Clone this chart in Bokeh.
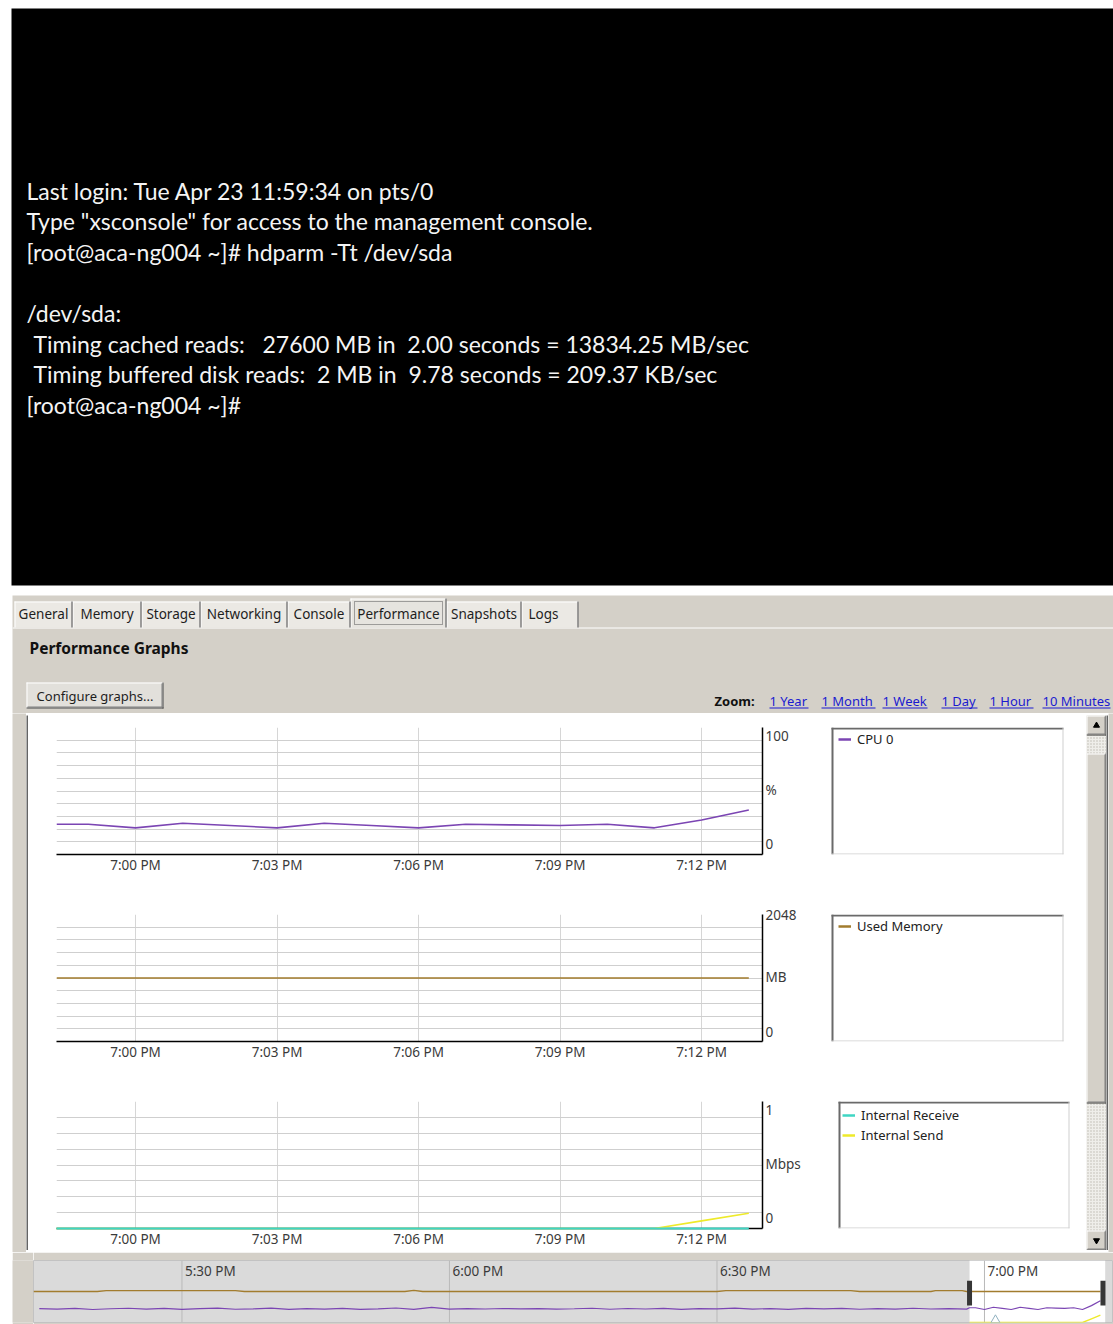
import re
from bokeh.plotting import figure
from bokeh.layouts import column, row
from bokeh.models import Range1d, FixedTicker, Legend, LegendItem
from bokeh.core.properties import value
from bokeh.embed import file_html
from bokeh.resources import INLINE

# ---------------------------------------------------------------- data
terminal_lines = [
    "Last login: Tue Apr 23 11:59:34 on pts/0",
    'Type "xsconsole" for access to the management console.',
    "[root@aca-ng004 ~]# hdparm -Tt /dev/sda",
    "",
    "/dev/sda:",
    " Timing cached reads:   27600 MB in  2.00 seconds = 13834.25 MB/sec",
    " Timing buffered disk reads:  2 MB in  9.78 seconds = 209.37 KB/sec",
    "[root@aca-ng004 ~]#",
]
tab_labels = ["General", "Memory", "Storage", "Networking", "Console",
              "Performance", "Snapshots", "Logs"]
selected_tab = "Performance"
panel_title = "Performance Graphs"
button_label = "Configure graphs..."
zoom_label = "Zoom:"
zoom_links = ["1 Year", "1 Month", "1 Week", "1 Day", "1 Hour", "10 Minutes"]

# main graphs: time in minutes relative to 7:00 PM
window_start = -1.675
window_end = 13.29
tick_minutes = [0, 3, 6, 9, 12]
tick_labels = ["7:00 PM", "7:03 PM", "7:06 PM", "7:09 PM", "7:12 PM"]

sample_minutes = [-1.675, -1, 0, 1, 2, 3, 4, 5, 6, 7, 8, 9, 10, 11, 12, 13]
cpu0_pct = [23.8, 23.8, 21.0, 24.6, 22.8, 21.0, 24.6, 22.8, 21.0, 23.8,
            23.3, 22.8, 23.8, 21.0, 27.2, 35.0]
used_memory_mb = [1024, 1024, 1024, 1024, 1024, 1024, 1024, 1024, 1024, 1024,
                  1024, 1024, 1024, 1024, 1024, 1024]
internal_receive_mbps = [0, 0, 0, 0, 0, 0, 0, 0, 0, 0, 0, 0, 0, 0, 0, 0]
internal_send_mbps = [0, 0, 0, 0, 0, 0, 0, 0, 0, 0, 0, 0, 0, 0, 0.06, 0.12]

memory_total_mb = 2048
cpu_axis_labels = ["0", "%", "100"]
mem_axis_labels = ["0", "MB", "2048"]
net_axis_labels = ["0", "Mbps", "1"]

# overview strip (minutes relative to 7:00 PM)
overview_start = -106.65
overview_end = 14.47
overview_ticks = [-90, -60, -30, 0]
overview_tick_labels = ["5:30 PM", "6:00 PM", "6:30 PM", "7:00 PM"]
overview_cpu_minutes = [-106, -104, -102, -100, -98, -96, -94, -92, -90, -88,
                        -86, -84, -82, -80, -78, -76, -74, -72, -70, -68,
                        -66, -64, -62, -60, -58, -56, -54, -52, -50, -48,
                        -46, -44, -42, -40, -38, -36, -34, -32, -30, -28,
                        -26, -24, -22, -20, -18, -16, -14, -12, -10, -8,
                        -6, -4, -2]
overview_cpu_pct = [22.5, 21.5, 22.8, 21.0, 22.2, 23.0, 21.5, 22.7, 21.2, 22.5,
                    23.2, 21.4, 22.0, 23.1, 21.3, 22.4, 21.6, 22.9, 21.1, 22.0,
                    23.4, 21.2, 24.5, 21.5, 22.3, 21.8, 22.6, 21.9, 22.4, 21.7,
                    22.2, 23.0, 21.4, 22.6, 21.8, 22.9, 21.3, 22.4, 22.0, 23.1,
                    21.6, 22.5, 21.2, 22.7, 21.9, 22.8, 21.4, 22.3, 21.7, 23.0,
                    21.8, 22.5, 21.6]
overview_mem_minutes = [-106.65, -99.5, -98.5, -84.0, -83.0, -65.0, -64.0, -63.0,
                        -30.0, -29.0, -15.0, -14.0, -6.0, -5.5, -2.5, -2.0]
overview_mem_mb = [1024, 1024, 1052, 1052, 1024, 1024, 1060, 1024,
                   1024, 1052, 1052, 1024, 1024, 1052, 1052, 1024]

# ---------------------------------------------------------------- style
PANEL = "#d4d0c8"
TAB_BG = "#ebe9e4"
BOX_BORDER = "#646464"
UI_FONT = "Noto Sans"
TERM_FONT = "Lato"
CPU_COLOR = "#7b45b3"
MEM_COLOR = "#a27c2e"
RX_COLOR = "#3fd6c3"
TX_COLOR = "#eeea2a"
LABEL_COLOR = "#3a3a3a"


def canvas(w, h, bg):
    p = figure(width=w, height=h, x_range=Range1d(0, w), y_range=Range1d(h, 0),
               x_axis_location=None, y_axis_location=None,
               output_backend="svg", toolbar_location=None,
               background_fill_color=bg, border_fill_color=bg,
               outline_line_color=None, min_border=0)
    p.xgrid.visible = False
    p.ygrid.visible = False
    return p


def block(w, h, color):
    return canvas(w, h, color)


def bevel(p, l, t, r, b, light="#ffffff", shadow="#808080", dark="#404040"):
    p.segment(x0=[l, l + 0.5], y0=[t + 0.5, t], x1=[r, l + 0.5], y1=[t + 0.5, b],
              line_color=light, line_width=1)
    p.segment(x0=[l, r - 0.5], y0=[b - 0.5, t], x1=[r, r - 0.5], y1=[b - 0.5, b],
              line_color=dark, line_width=1)
    p.segment(x0=[l + 1, r - 1.5], y0=[b - 1.5, t + 1], x1=[r - 1, r - 1.5], y1=[b - 1.5, b - 1],
              line_color=shadow, line_width=1)


# ---------------------------------------------------------------- terminal
term = figure(width=1113, height=595, x_range=Range1d(0, 1102), y_range=Range1d(577, 0),
              x_axis_location=None, y_axis_location=None,
              output_backend="svg", toolbar_location=None,
              min_border_left=11, min_border_right=0, min_border_top=8, min_border_bottom=10,
              background_fill_color="black", border_fill_color="white", outline_line_color=None)
term.xgrid.visible = False
term.ygrid.visible = False
tx, ty, tt = [], [], []
for i, line in enumerate(terminal_lines):
    if not line:
        continue
    tx.append(15 + (7 if line.startswith(" ") else 0))
    ty.append(182 + i * 30.6)
    tt.append(re.sub(r" {2,}", lambda m: " " + "\u00a0" * (len(m.group()) - 1), line.strip()))
term.text(x=tx, y=ty, text=tt, text_font=value(TERM_FONT), text_font_size="23px",
          text_color="#f4f4f4", text_baseline="middle", text_align="left")

# ---------------------------------------------------------------- header (tabs, title, zoom)
hdr = canvas(1101, 118, PANEL)
tab_edges = [2, 60, 129, 188, 275, 338, 434, 509, 566]
lefts, rights = tab_edges[:-1], tab_edges[1:]
tops = [3 if lab == selected_tab else 6 for lab in tab_labels]
hdr.segment(x0=[0], y0=[32.5], x1=[1101], y1=[32.5], line_color="white", line_width=1)
hdr.quad(left=lefts, right=rights, top=tops, bottom=[32] * len(lefts),
         fill_color=[("#e6e4df" if lab == selected_tab else TAB_BG) for lab in tab_labels],
         line_color=None)
hdr.segment(x0=[l + 0.5 for l in lefts], y0=tops, x1=[l + 0.5 for l in lefts], y1=[32] * len(lefts),
            line_color="white")
hdr.segment(x0=lefts, y0=[t + 0.5 for t in tops], x1=rights, y1=[t + 0.5 for t in tops],
            line_color="white")
hdr.segment(x0=[r - 0.5 for r in rights], y0=tops, x1=[r - 0.5 for r in rights], y1=[32] * len(rights),
            line_color="#6f6f6f", line_width=1.3)
tab_cx = [(l + r) / 2 for l, r in zip(lefts, rights)]
tab_cx[-1] = lefts[-1] + 22
hdr.text(x=tab_cx, y=[18] * len(tab_cx), text=tab_labels, text_font=value(UI_FONT),
         text_font_size="13.5px", text_color="#1e1e1e", text_align="center", text_baseline="middle")
si = tab_labels.index(selected_tab)
hdr.quad(left=[lefts[si] + 4], right=[rights[si] - 4], top=[6], bottom=[29], fill_color=None,
         line_color="#555555", line_dash="1 1", line_width=1)
hdr.text(x=[17], y=[52], text=[panel_title], text_font=value(UI_FONT), text_font_size="15.5px",
         text_font_style="bold", text_color="#111111", text_baseline="middle")
hdr.quad(left=[14], right=[151], top=[87], bottom=[113], fill_color="#e2e0db", line_color=None)
bevel(hdr, 14, 87, 151, 113)
hdr.text(x=[82.5], y=[100], text=[button_label], text_font=value(UI_FONT), text_font_size="13px",
         text_color="#1e1e1e", text_align="center", text_baseline="middle")
hdr.text(x=[702], y=[105], text=[zoom_label], text_font=value(UI_FONT), text_font_size="13px",
         text_font_style="bold", text_color="#111111", text_baseline="middle")
link_left = [757, 809, 870, 929, 977, 1030]
link_right = [796, 863, 915, 965, 1021, 1098]
hdr.text(x=link_left, y=[105] * 6, text=zoom_links, text_font=value(UI_FONT), text_font_size="13px",
         text_color="#1a1ad0", text_baseline="middle")
hdr.segment(x0=link_left, y0=[112.5] * 6, x1=link_right, y1=[112.5] * 6, line_color="#1a1ad0")


# ---------------------------------------------------------------- charts
def perf_chart(w, h, y_end, grid_vals, axis_vals, axis_texts):
    p = figure(width=w, height=h, x_range=Range1d(window_start, window_end),
               y_range=Range1d(0, y_end), y_axis_location="right",
               output_backend="svg", toolbar_location=None,
               min_border_left=28, min_border_right=w - 28 - 706,
               min_border_top=12, min_border_bottom=h - 12 - 127,
               background_fill_color="white", border_fill_color="white",
               outline_line_color=None)
    xa = p.xaxis[0]
    xa.ticker = FixedTicker(ticks=tick_minutes)
    xa.major_label_overrides = dict(zip(tick_minutes, tick_labels))
    ya = p.yaxis[0]
    ya.ticker = FixedTicker(ticks=axis_vals)
    ya.major_label_overrides = dict(zip(axis_vals, axis_texts))
    for ax in (xa, ya):
        ax.axis_line_color = "black"
        ax.axis_line_width = 1.5
        ax.major_tick_line_color = None
        ax.minor_tick_line_color = None
        ax.major_tick_out = 0
        ax.major_tick_in = 0
        ax.minor_tick_out = 0
        ax.major_label_standoff = 3
        ax.major_label_text_font = UI_FONT
        ax.major_label_text_font_size = "13.5px"
        ax.major_label_text_color = LABEL_COLOR
    xa.major_label_standoff = 1
    p.xgrid.ticker = FixedTicker(ticks=tick_minutes)
    p.ygrid.ticker = FixedTicker(ticks=grid_vals)
    p.xgrid.grid_line_color = "#d6d6d6"
    p.ygrid.grid_line_color = "#cfcfcf"
    return p


c1 = perf_chart(795, 187, 100, [i * 10 for i in range(11)], [8, 51, 93], cpu_axis_labels)
c1.line(sample_minutes, cpu0_pct, line_color=CPU_COLOR, line_width=1.6)

c2 = perf_chart(795, 187, memory_total_mb, [i * memory_total_mb / 10 for i in range(11)],
                [161, 1048, 2040], mem_axis_labels)
c2.line(sample_minutes, used_memory_mb, line_color=MEM_COLOR, line_width=1.6)

c3 = perf_chart(799, 161, 1, [i * 0.125 for i in range(9)], [0.08, 0.51, 0.93], net_axis_labels)
c3.line(sample_minutes, internal_send_mbps, line_color=TX_COLOR, line_width=1.6, level="overlay")
c3.line(sample_minutes, internal_receive_mbps, line_color=RX_COLOR, line_width=2, level="overlay")


def legend_panel(w, h, box_x, box_w, entries, top_gap=2):
    # frame = the legend box rows (aligned with the neighbouring chart frame)
    p = figure(width=w, height=h, x_range=Range1d(0, w), y_range=Range1d(127, 0),
               x_axis_location=None, y_axis_location=None,
               output_backend="svg", toolbar_location=None,
               background_fill_color="white", border_fill_color="white",
               outline_line_color=None, min_border_left=0, min_border_right=0,
               min_border_top=12, min_border_bottom=h - 12 - 127)
    p.xgrid.visible = False
    p.ygrid.visible = False
    p.segment(x0=[box_x, box_x + 1], y0=[1, 0], x1=[box_x + box_w, box_x + 1], y1=[1, 127],
              line_color="#6a6a6a", line_width=2)
    p.segment(x0=[box_x, box_x + box_w - 0.5], y0=[126.5, 0], x1=[box_x + box_w, box_x + box_w - 0.5],
              y1=[126.5, 127], line_color="#cfcfcf", line_width=1)
    items = []
    for label, color in entries:
        # legend swatch renderer, kept outside the visible area
        r = p.line(x=[-50, -40], y=[-50, -40], line_color=color, line_width=2.5)
        items.append(LegendItem(label=label, renderers=[r]))
    lg = Legend(items=items, location=(15, 127 - top_gap - 20 * len(entries)), margin=0, padding=0,
                spacing=0, glyph_width=13, glyph_height=20, label_height=20, label_standoff=6,
                label_text_font=UI_FONT, label_text_font_size="13px", label_text_color="#222222",
                border_line_color=None, background_fill_alpha=0)
    p.add_layout(lg)
    return p


l1 = legend_panel(263, 187, 8, 232, [("CPU 0", CPU_COLOR)])
l2 = legend_panel(263, 187, 8, 232, [("Used Memory", MEM_COLOR)])
l3 = legend_panel(259, 161, 11, 231, [("Internal Receive", RX_COLOR), ("Internal Send", TX_COLOR)],
                  top_gap=4)

# ---------------------------------------------------------------- scrollbar
sb = canvas(20, 535, "#efeeea")
sb.quad(left=[0], right=[20], top=[0], bottom=[535], fill_color="#efeeea", line_color=None,
        hatch_pattern=".", hatch_color="#bdb9b1", hatch_scale=3, hatch_weight=1)
for top, bottom in [(0, 20), (38, 388), (515, 535)]:
    sb.quad(left=[0], right=[20], top=[top], bottom=[bottom], fill_color=PANEL, line_color=None)
    bevel(sb, 0, top, 20, bottom)
sb.scatter(x=[10], y=[10], marker="triangle", size=6, color="black")
sb.scatter(x=[10], y=[525], marker="inverted_triangle", size=6, color="black")

# ---------------------------------------------------------------- overview strip
ov = figure(width=1080, height=72, x_range=Range1d(overview_start, overview_end),
            y_range=Range1d(0, 100), x_axis_location=None, y_axis_location=None,
            output_backend="svg", toolbar_location=None,
            min_border_top=8, min_border_bottom=2, min_border_left=0, min_border_right=0,
            background_fill_color="#dadada", border_fill_color=PANEL,
            outline_line_color="#c2c2c2")
ov.xgrid.visible = False
ov.ygrid.visible = False
ov.quad(left=[window_start], right=[window_end + 0.25], bottom=[0], top=[100],
        fill_color="white", line_color=None)
ov.segment(x0=overview_ticks, y0=[0] * 4, x1=overview_ticks, y1=[100] * 4,
           line_color="#b9b9b9", line_width=1)
ov.text(x=overview_ticks, y=[100] * 4, text=overview_tick_labels, x_offset=3, y_offset=1,
        text_baseline="top", text_font=value(UI_FONT), text_font_size="13.5px",
        text_color=LABEL_COLOR)
ov.line(overview_mem_minutes + sample_minutes,
        [m / memory_total_mb * 100 for m in overview_mem_mb + used_memory_mb],
        line_color=MEM_COLOR, line_width=1.4)
ov.line(overview_cpu_minutes + sample_minutes, overview_cpu_pct + cpu0_pct,
        line_color=CPU_COLOR, line_width=1.2)
ov.line(sample_minutes, [v * 100 for v in internal_send_mbps], line_color=TX_COLOR, line_width=1.4)
ov.rect(x=[window_start, window_end], y=[47.5, 47.5], width=5, width_units="screen",
        height=40, fill_color="#363636", line_color=None)
ov.scatter(x=[1.23], y=[4], marker="triangle", size=9, fill_color="white", line_color="#8fb0bf")

# ---------------------------------------------------------------- layout
inner = row(column(row(c1, l1), row(c2, l2), row(c3, l3)), sb)
box = column(block(1082, 2, BOX_BORDER),
             row(block(2, 535, BOX_BORDER), inner, block(2, 535, BOX_BORDER)),
             block(1082, 2, BOX_BORDER))
panel = column(hdr,
               row(block(14, 539, PANEL), box, block(5, 539, PANEL)),
               row(block(21, 72, PANEL), ov))
root = column(term, row(block(12, 729, "white"), panel))

open("out.html", "w").write(file_html(root, INLINE, "Performance"))
